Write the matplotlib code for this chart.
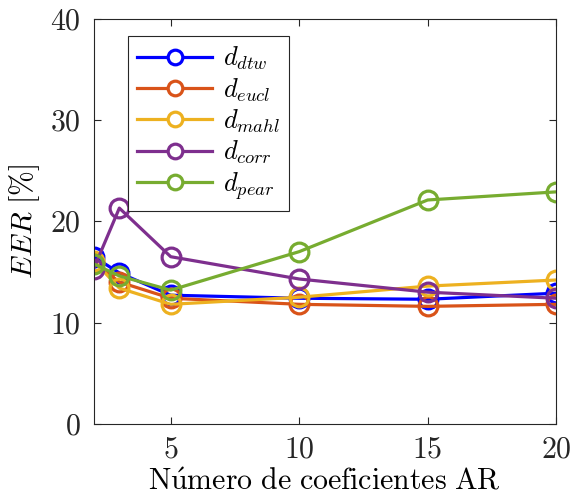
import matplotlib
matplotlib.use("Agg")
import matplotlib.pyplot as plt

plt.rcParams['mathtext.fontset'] = 'cm'
plt.rcParams['font.family'] = 'cmr10'
plt.rcParams['axes.formatter.use_mathtext'] = True

# Number of AR coefficients and EER (%) per distance measure
coefs = [2, 3, 5, 10, 15, 20]
eer_dtw = [16.5, 14.9, 12.7, 12.4, 12.3, 12.9]
eer_eucl = [16.0, 14.0, 12.4, 11.8, 11.6, 11.8]
eer_mahl = [16.1, 13.4, 11.8, 12.5, 13.6, 14.2]
eer_corr = [15.3, 21.3, 16.5, 14.3, 13.0, 12.4]
eer_pear = [15.8, 14.6, 13.2, 17.0, 22.1, 22.9]

labels = [r'$d_{dtw}$', r'$d_{eucl}$', r'$d_{mahl}$', r'$d_{corr}$', r'$d_{pear}$']
colors = ['#0000ff', '#d95319', '#edb120', '#7e2f8e', '#77ac30']
xticks = [5, 10, 15, 20]
yticks = [0, 10, 20, 30, 40]

fig = plt.figure(figsize=(5.71, 5.04), dpi=100)
ax = fig.add_axes([0.164, 0.159, 0.81, 0.804])

for vals, lab, col in zip([eer_dtw, eer_eucl, eer_mahl, eer_corr, eer_pear], labels, colors):
    ax.plot(coefs, vals, '-o', color=col, lw=2.3, ms=13.5, mew=2.3,
            mfc='none', label=lab)

ax.set_xlim(2, 20)
ax.set_ylim(0, 40)
ax.set_xticks(xticks)
ax.set_yticks(yticks)
ax.set_xticklabels([f'${t}$' for t in xticks])
ax.set_yticklabels([f'${t}$' for t in yticks])
ax.tick_params(direction='in', top=True, right=True, length=5, width=0.8,
               labelsize=21.5, colors='#262626', pad=9)
for s in ax.spines.values():
    s.set_linewidth(0.8)
    s.set_color('#262626')

ax.set_xlabel(r'$\mathrm{N\acute{u}mero\ de\ coeficientes\ AR}$', fontsize=21.5, labelpad=3)
ax.set_ylabel(r'$EER\ \mathrm{[\%]}$', fontsize=21.5, labelpad=6)

leg = ax.legend(loc='upper left', bbox_to_anchor=(0.074, 0.958), borderaxespad=0,
                fontsize=19, handlelength=2.85, markerscale=0.78, fancybox=False,
                edgecolor='#262626', framealpha=1, borderpad=0.35,
                labelspacing=0.145, handletextpad=0.4)
leg.get_frame().set_linewidth(0.8)
for h in leg.legend_handles:
    h.set_markerfacecolor('white')

fig.savefig('out.png', dpi=100)
